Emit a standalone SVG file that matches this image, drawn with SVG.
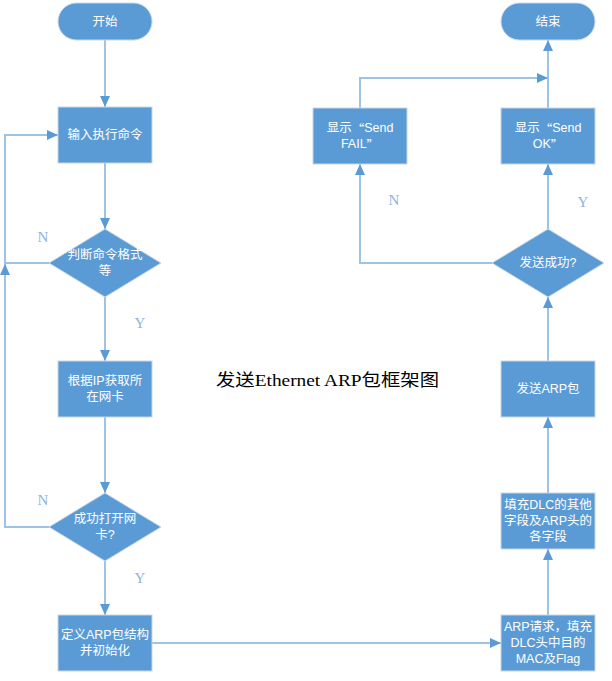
<svg xmlns="http://www.w3.org/2000/svg" width="612" height="681" viewBox="0 0 612 681">
<defs>
<marker id="ah" markerUnits="userSpaceOnUse" markerWidth="12" markerHeight="12" refX="11" refY="6" orient="auto">
<path d="M0,1 L11,6 L0,11 z" fill="#5B9BD5"/>
</marker>
<style>
.n{fill:#5B9BD5;stroke:#C9D6E4;stroke-width:1}
.t{fill:#fff;font-family:"Liberation Sans","Noto Sans CJK SC",sans-serif;font-size:12.5px;text-anchor:middle;dominant-baseline:central}
.q{font-family:"Noto Sans CJK SC",sans-serif}
.c{fill:none;stroke:#9DC3E6;stroke-width:2;marker-end:url(#ah)}
.l{fill:#8EB4E3;font-family:"Liberation Serif",serif;font-size:15px;text-anchor:middle;dominant-baseline:central}
</style>
</defs>
<rect width="612" height="681" fill="#fff"/>
<g id="connectors">
<path class="c" d="M105,40 V107"/>
<path class="c" d="M105,163 V229"/>
<path class="c" d="M105,297 V361"/>
<path class="c" d="M105,417 V493"/>
<path class="c" d="M105,561 V615"/>
<path class="c" d="M50,263 H5 V135 H58"/>
<path class="c" d="M50,527 H5 V264"/>
<path class="c" d="M152,643 H501"/>
<path class="c" d="M548,615 V549"/>
<path class="c" d="M548,493 V417"/>
<path class="c" d="M548,361 V297"/>
<path class="c" d="M548,229 V164"/>
<path class="c" d="M548,108 V40"/>
<path class="c" d="M493,263 H360 V164"/>
<path class="c" d="M360,108 V78 H548"/>
</g>
<g id="start"><rect class="n" x="58" y="3" width="94" height="37" rx="18.5"/><text class="t" x="105" y="21.5">开始</text></g>
<g id="input"><rect class="n" x="58" y="107" width="94" height="56"/><text class="t" x="105" y="135">输入执行命令</text></g>
<g id="check"><polygon class="n" points="105,229 161,263 105,297 49,263"/><text class="t" x="105" y="255">判断命令格式</text><text class="t" x="105" y="271">等</text></g>
<g id="getnic"><rect class="n" x="58" y="361" width="94" height="56"/><text class="t" x="105" y="381">根据IP获取所</text><text class="t" x="105" y="397">在网卡</text></g>
<g id="opennic"><polygon class="n" points="105,493 161,527 105,561 49,527"/><text class="t" x="105" y="519">成功打开网</text><text class="t" x="105" y="535">卡?</text></g>
<g id="define"><rect class="n" x="58" y="615" width="94" height="56"/><text class="t" x="105" y="635">定义ARP包结构</text><text class="t" x="105" y="651">并初始化</text></g>
<g id="arpreq"><rect class="n" x="501" y="615" width="94" height="56"/><text class="t" x="548" y="627">ARP请求，填充</text><text class="t" x="548" y="643">DLC头中目的</text><text class="t" x="548" y="659">MAC及Flag</text></g>
<g id="fill"><rect class="n" x="501" y="493" width="94" height="56"/><text class="t" x="548" y="505">填充DLC的其他</text><text class="t" x="548" y="521">字段及ARP头的</text><text class="t" x="548" y="537">各字段</text></g>
<g id="send"><rect class="n" x="501" y="361" width="94" height="56"/><text class="t" x="548" y="389">发送ARP包</text></g>
<g id="sendok"><polygon class="n" points="548,229 604,263 548,297 492,263"/><text class="t" x="548" y="263">发送成功?</text></g>
<g id="showok"><rect class="n" x="501" y="108" width="94" height="56"/><text class="t" x="548" y="128">显示<tspan class="q">“</tspan>Send</text><text class="t" x="548" y="144">OK<tspan class="q">”</tspan></text></g>
<g id="showfail"><rect class="n" x="313" y="108" width="94" height="56"/><text class="t" x="360" y="128">显示<tspan class="q">“</tspan>Send</text><text class="t" x="360" y="144">FAIL<tspan class="q">”</tspan></text></g>
<g id="end"><rect class="n" x="501" y="3" width="94" height="37" rx="18.5"/><text class="t" x="548" y="21.5">结束</text></g>
<g id="labels">
<text class="l" x="43" y="237">N</text>
<text class="l" x="140" y="323">Y</text>
<text class="l" x="43" y="500">N</text>
<text class="l" x="140" y="578">Y</text>
<text class="l" x="394" y="200">N</text>
<text class="l" x="583" y="202">Y</text>
</g>
<g id="title"><text x="216" y="386" font-family="'Liberation Serif','Noto Sans CJK SC',serif" font-size="17" fill="#000" textLength="223" lengthAdjust="spacingAndGlyphs">发送Ethernet ARP包框架图</text></g>
</svg>
